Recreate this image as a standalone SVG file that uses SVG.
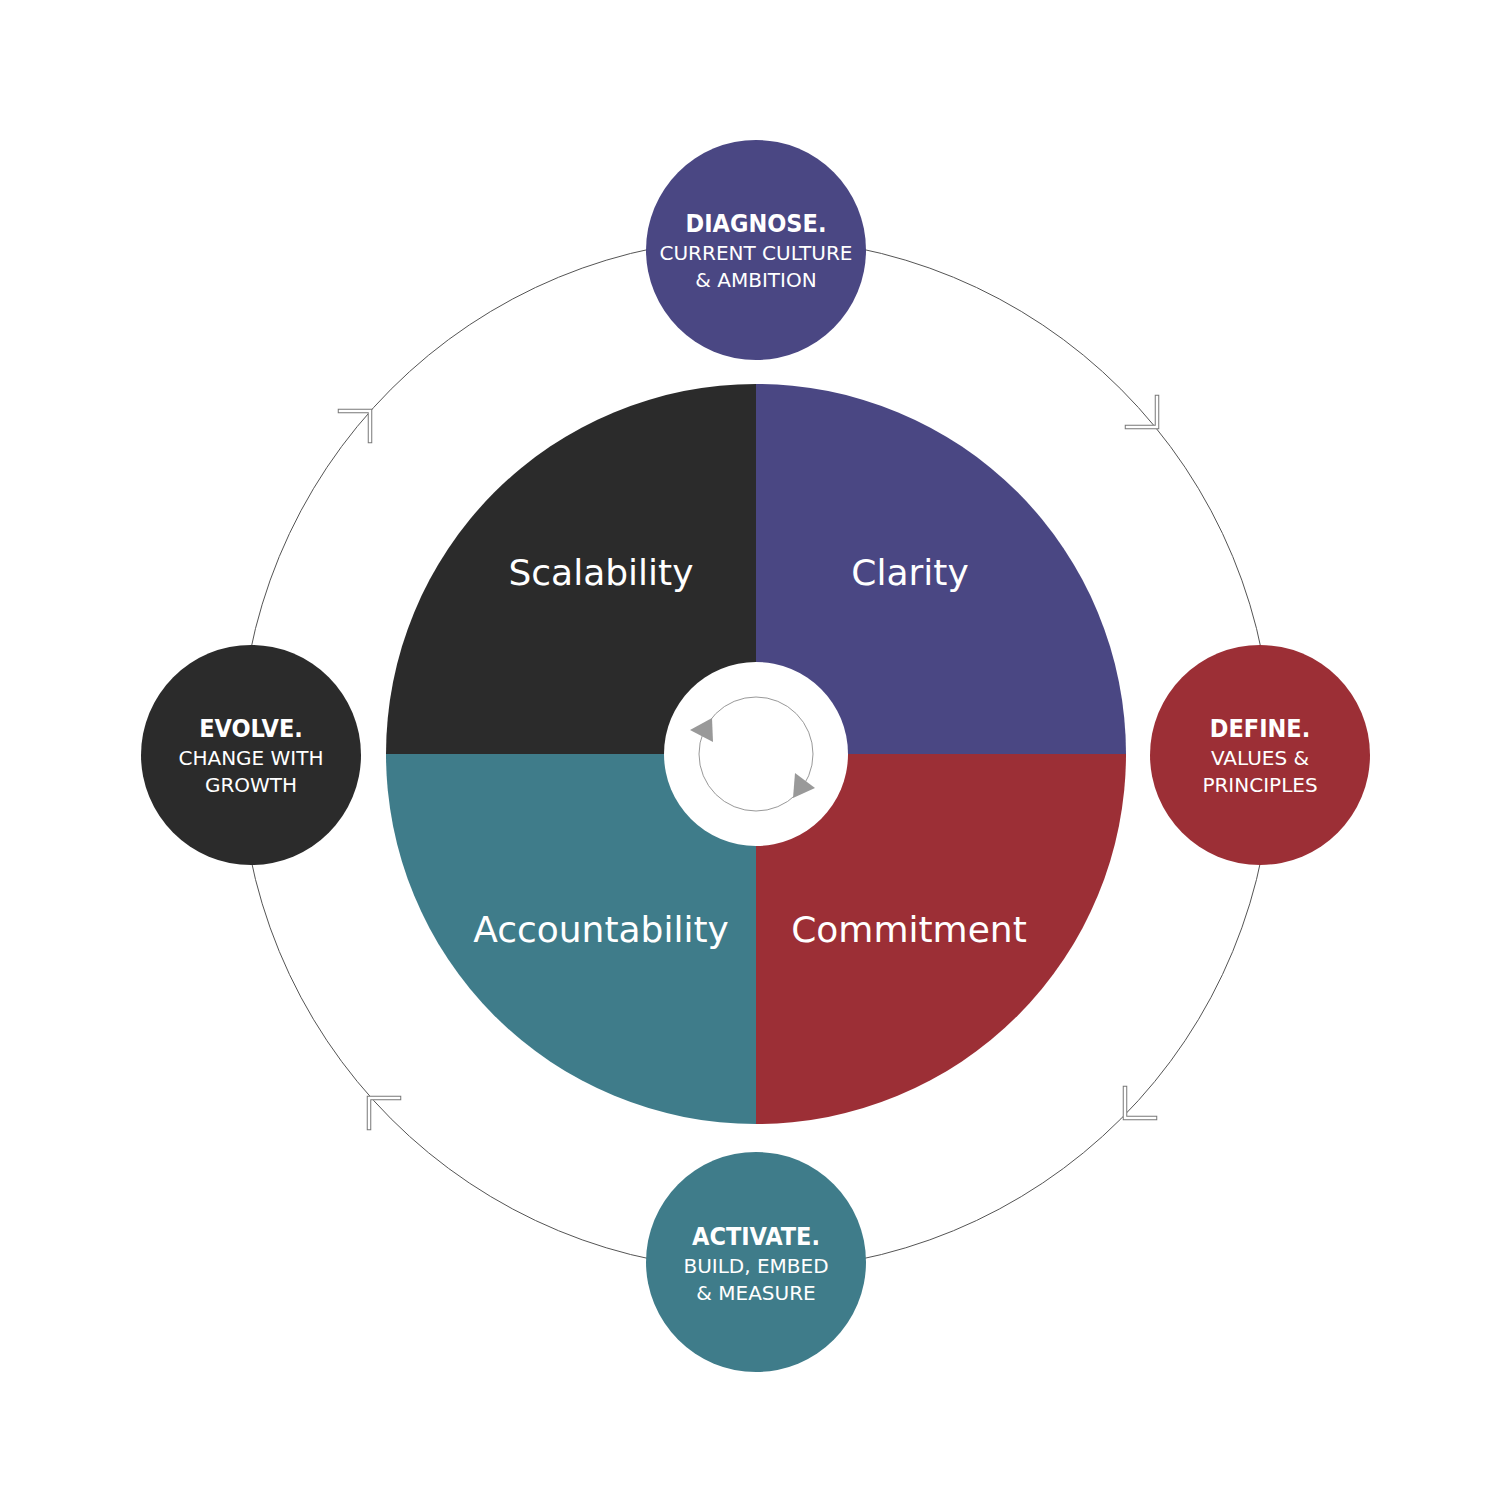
<svg xmlns="http://www.w3.org/2000/svg" width="1512" height="1512" viewBox="0 0 1512 1512">
<style>
.q{font-family:"DejaVu Sans","Liberation Sans",sans-serif;font-size:36px;fill:#fff;text-anchor:middle}
.h{font-family:"DejaVu Sans Condensed","DejaVu Sans","Liberation Sans",sans-serif;font-size:25px;font-weight:bold;fill:#fff;text-anchor:middle}
.s{font-family:"DejaVu Sans","Liberation Sans",sans-serif;font-size:20px;fill:#fff;text-anchor:middle}
.chev{fill:none;stroke-linejoin:miter;stroke-linecap:square}
</style>
<defs>
<path id="chv" d="M0,-30 L0,0 L-30,0"/>
</defs>
<rect width="1512" height="1512" fill="#fff"/>
<g id="connectors">
<circle cx="756" cy="754" r="516" fill="none" stroke="#555" stroke-width="1"/>
<g id="chevrons">
<g transform="translate(1157,427)"><use href="#chv" class="chev" stroke="#777" stroke-width="4.5"/><use href="#chv" class="chev" stroke="#fff" stroke-width="2.5"/></g>
<g transform="translate(370,411) rotate(-90)"><use href="#chv" class="chev" stroke="#777" stroke-width="4.5"/><use href="#chv" class="chev" stroke="#fff" stroke-width="2.5"/></g>
<g transform="translate(1125,1118) rotate(90)"><use href="#chv" class="chev" stroke="#777" stroke-width="4.5"/><use href="#chv" class="chev" stroke="#fff" stroke-width="2.5"/></g>
<g transform="translate(369,1098) rotate(180)"><use href="#chv" class="chev" stroke="#777" stroke-width="4.5"/><use href="#chv" class="chev" stroke="#fff" stroke-width="2.5"/></g>
</g>
</g>
<g id="wheel">
<path d="M756,754 L756,384 A370,370 0 0 1 1126,754 Z" fill="#4a4783"/>
<path d="M756,754 L1126,754 A370,370 0 0 1 756,1124 Z" fill="#9c2f36"/>
<path d="M756,754 L756,1124 A370,370 0 0 1 386,754 Z" fill="#3f7c8a"/>
<path d="M756,754 L386,754 A370,370 0 0 1 756,384 Z" fill="#2b2b2b"/>
<text class="q" x="601" y="585">Scalability</text>
<text class="q" x="910" y="585">Clarity</text>
<text class="q" x="601" y="942">Accountability</text>
<text class="q" x="909" y="942">Commitment</text>
</g>
<g id="center">
<circle cx="756" cy="754" r="92" fill="#fff"/>
<circle cx="756" cy="754" r="57" fill="none" stroke="#999" stroke-width="1"/>
<polygon points="690,730 712,718 713,742" fill="#999"/>
<polygon points="815,788 795,773 793,798" fill="#999"/>
</g>
<g id="diagnose">
<circle cx="756" cy="250" r="110" fill="#4a4783"/>
<text class="h" x="756" y="232">DIAGNOSE.</text>
<text class="s" x="756" y="260">CURRENT CULTURE</text>
<text class="s" x="756" y="287">&amp; AMBITION</text>
</g>
<g id="define">
<circle cx="1260" cy="755" r="110" fill="#9c2f36"/>
<text class="h" x="1260" y="737">DEFINE.</text>
<text class="s" x="1260" y="765">VALUES &amp;</text>
<text class="s" x="1260" y="792">PRINCIPLES</text>
</g>
<g id="activate">
<circle cx="756" cy="1262" r="110" fill="#3f7c8a"/>
<text class="h" x="756" y="1245">ACTIVATE.</text>
<text class="s" x="756" y="1273">BUILD, EMBED</text>
<text class="s" x="756" y="1300">&amp; MEASURE</text>
</g>
<g id="evolve">
<circle cx="251" cy="755" r="110" fill="#2b2b2b"/>
<text class="h" x="251" y="737">EVOLVE.</text>
<text class="s" x="251" y="765">CHANGE WITH</text>
<text class="s" x="251" y="792">GROWTH</text>
</g>
</svg>
